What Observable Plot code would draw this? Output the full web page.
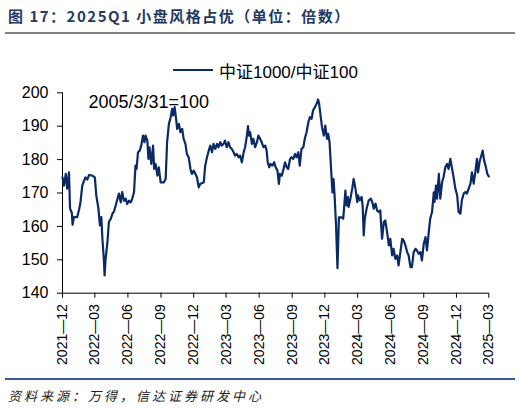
<!DOCTYPE html>
<html>
<head>
<meta charset="utf-8">
<script src="https://cdn.jsdelivr.net/npm/d3@7"></script>
<script src="https://cdn.jsdelivr.net/npm/@observablehq/plot@0.6"></script>
<style>
  body { margin: 0; background: #fff; }
  #wrap { position: relative; width: 520px; height: 410px; overflow: hidden; background: #fff; font-family: "Liberation Sans", "Noto Sans CJK SC", sans-serif; }
  #title { position: absolute; left: 8px; top: 8px; font-family: "Noto Sans CJK SC", sans-serif; font-weight: bold; font-size: 15px; line-height: 15px; letter-spacing: 1.5px; color: #243a64; white-space: nowrap; }
  #rule1 { position: absolute; left: 5px; top: 32px; width: 510px; height: 2px; background: #808080; }
  #legend { position: absolute; left: 173px; top: 60px; height: 20px; display: flex; align-items: center; font-size: 17px; color: #000; white-space: nowrap; }
  #legend .sw { display: inline-block; width: 40px; height: 2px; background: #0a2a66; margin-right: 6px; }
  #chart { position: absolute; left: 0; top: 78px; }
  #rule2 { position: absolute; left: 5px; top: 378px; width: 510px; height: 2px; background: #3a5a96; }
  #source { position: absolute; left: 8px; top: 388px; font-family: "Noto Sans CJK SC", sans-serif; font-style: italic; font-size: 13px; line-height: 16px; letter-spacing: 3px; color: #222; white-space: nowrap; }
</style>
</head>
<body>
<div id="wrap">
  <div id="title">图 17：2025Q1 小盘风格占优（单位：倍数）</div>
  <div id="rule1"></div>
  <div id="legend"><span class="sw"></span><span id="legendText"></span></div>
  <div id="chart"></div>
  <div id="rule2"></div>
  <div id="source">资料来源：万得，信达证券研发中心</div>
</div>
<script>
const seriesName = "中证1000/中证100";
const annotation = ["2005/3/31=100"];
const yTicks = [140, 150, 160, 170, 180, 190, 200];
const xTickLabels = ["2021-12","2022-03","2022-06","2022-09","2022-12","2023-03","2023-06","2023-09","2023-12","2024-03","2024-06","2024-09","2024-12","2025-03"];

const dates = [
"2021-12-01","2021-12-05","2021-12-10","2021-12-14","2021-12-19","2021-12-22","2021-12-27","2021-12-29",
"2022-01-02","2022-01-11","2022-01-16","2022-01-20","2022-01-25","2022-01-30","2022-02-03","2022-02-08","2022-02-13","2022-02-22",
"2022-03-01","2022-03-05","2022-03-11","2022-03-15","2022-03-19","2022-03-22","2022-03-26","2022-03-28","2022-03-31",
"2022-04-05","2022-04-09","2022-04-14","2022-04-19","2022-04-23","2022-04-28","2022-05-03","2022-05-07","2022-05-12","2022-05-16","2022-05-21","2022-05-26","2022-05-30",
"2022-06-04","2022-06-09","2022-06-13","2022-06-18","2022-06-22","2022-06-25","2022-06-29","2022-07-04","2022-07-08","2022-07-13","2022-07-17","2022-07-20","2022-07-25","2022-07-28","2022-07-31",
"2022-08-05","2022-08-10","2022-08-13","2022-08-17","2022-08-22","2022-08-26","2022-08-31","2022-09-09","2022-09-14","2022-09-18","2022-09-23","2022-09-28",
"2022-10-02","2022-10-05","2022-10-09","2022-10-13","2022-10-16","2022-10-21","2022-10-25","2022-10-30","2022-11-03","2022-11-08","2022-11-12","2022-11-17","2022-11-22","2022-11-26",
"2022-12-01","2022-12-06","2022-12-10","2022-12-15","2022-12-19","2022-12-29",
"2023-01-02","2023-01-07","2023-01-12","2023-01-16","2023-01-21","2023-01-25","2023-01-30","2023-02-04","2023-02-08","2023-02-13","2023-02-17","2023-02-22","2023-02-26",
"2023-03-03","2023-03-08","2023-03-12","2023-03-17","2023-03-22","2023-03-26","2023-03-31","2023-04-05","2023-04-09","2023-04-14","2023-04-19","2023-04-23","2023-04-28",
"2023-05-01","2023-05-04","2023-05-07","2023-05-12","2023-05-16","2023-05-21","2023-05-26","2023-05-30","2023-06-04","2023-06-08","2023-06-13","2023-06-18","2023-06-22","2023-06-25","2023-06-29",
"2023-07-03","2023-07-08","2023-07-13","2023-07-17","2023-07-22","2023-07-26","2023-07-29","2023-08-03","2023-08-08","2023-08-12","2023-08-17","2023-08-21","2023-08-26","2023-08-30",
"2023-09-04","2023-09-09","2023-09-13","2023-09-18","2023-09-22","2023-09-27","2023-10-02","2023-10-06","2023-10-11","2023-10-16","2023-10-20","2023-10-25","2023-10-29",
"2023-11-03","2023-11-08","2023-11-12","2023-11-15","2023-11-19","2023-11-23","2023-11-28","2023-12-02","2023-12-07","2023-12-10","2023-12-14","2023-12-19","2023-12-22","2023-12-25","2023-12-28",
"2024-01-01","2024-01-05","2024-01-09","2024-01-16","2024-01-21","2024-01-24","2024-01-27","2024-01-30","2024-02-03","2024-02-05","2024-02-10","2024-02-15","2024-02-19","2024-02-24","2024-02-29",
"2024-03-02","2024-03-07","2024-03-12","2024-03-15","2024-03-18","2024-03-21","2024-03-26","2024-04-01","2024-04-07","2024-04-12","2024-04-15","2024-04-20","2024-04-24","2024-04-29",
"2024-05-03","2024-05-08","2024-05-13","2024-05-17","2024-05-22","2024-05-27","2024-05-31","2024-06-05","2024-06-09","2024-06-14","2024-06-19","2024-06-23","2024-06-28",
"2024-07-03","2024-07-07","2024-07-12","2024-07-17","2024-07-21","2024-07-26","2024-07-30","2024-08-04","2024-08-09","2024-08-13","2024-08-18","2024-08-23","2024-08-27",
"2024-09-01","2024-09-06","2024-09-10","2024-09-15","2024-09-19","2024-09-24","2024-09-29","2024-10-01","2024-10-05","2024-10-08","2024-10-13","2024-10-17","2024-10-22","2024-10-26","2024-10-31",
"2024-11-05","2024-11-09","2024-11-14","2024-11-19","2024-11-23","2024-11-28","2024-12-03","2024-12-07","2024-12-12","2024-12-16","2024-12-21","2024-12-26","2024-12-30",
"2025-01-04","2025-01-09","2025-01-13","2025-01-18","2025-01-23","2025-01-27","2025-01-30","2025-02-04","2025-02-07","2025-02-12","2025-02-16","2025-02-20","2025-02-25","2025-03-01"
];

const ratio = [
174.7,172.2,175.7,171.3,176.2,165.3,164.0,160.5,
162.8,162.8,165.0,167.2,172.2,173.7,174.7,174.0,175.4,175.2,
174.7,169.3,165.3,160.3,162.8,156.3,150.3,145.3,150.3,
155.3,161.3,162.2,163.8,164.4,166.3,168.3,169.8,167.2,170.3,167.7,168.3,166.7,
167.7,167.2,168.3,170.3,178.2,177.2,182.2,182.7,184.2,187.2,185.2,187.2,185.7,180.2,183.7,
178.7,184.2,177.2,178.7,175.2,177.7,173.2,173.2,174.2,185.2,190.7,192.7,
195.2,193.2,195.7,192.2,189.2,190.7,188.2,189.2,186.2,184.7,181.7,180.7,177.2,175.7,
176.7,175.7,174.7,171.7,172.7,173.2,
178.2,180.7,182.7,184.2,182.2,184.7,183.2,184.7,183.7,185.2,184.2,184.7,185.7,
183.7,185.2,183.7,183.2,182.2,181.2,181.7,180.7,181.2,179.2,182.2,183.7,187.2,
190.0,187.2,188.2,184.7,186.2,183.7,185.2,187.2,186.2,185.2,183.7,184.2,182.7,179.2,177.7,
178.7,178.2,179.2,177.7,176.7,172.7,175.7,175.2,177.2,179.2,177.7,177.2,180.2,180.7,
180.2,181.7,180.7,182.2,178.2,183.2,183.7,186.2,188.2,191.2,192.7,192.2,194.7,
195.7,196.7,198.0,196.7,193.2,189.7,187.2,190.2,186.2,187.7,185.2,175.7,170.2,174.2,169.2,
160.3,147.5,162.7,162.7,162.3,166.3,170.7,166.3,168.8,165.8,168.3,171.3,174.2,171.3,167.3,
169.3,167.8,168.8,166.3,157.3,162.3,165.3,167.8,168.3,166.8,165.3,166.8,164.8,164.3,
164.8,156.3,161.3,161.8,158.3,154.3,156.3,151.3,153.3,150.3,151.3,148.3,152.3,
156.3,155.8,154.3,152.3,151.3,147.8,147.8,152.3,153.3,152.8,151.8,152.3,149.8,
154.8,156.8,152.8,158.3,162.3,164.3,170.2,167.3,172.2,168.3,175.7,168.3,173.2,174.7,177.7,
178.7,177.2,180.2,177.2,174.7,171.3,169.3,164.3,163.8,167.8,169.8,170.3,169.8,
171.3,172.8,176.2,172.8,176.7,180.2,176.2,179.7,180.7,182.7,179.7,178.2,175.7,175.0
];

const parse = d3.utcParse("%Y-%m-%d");
const parseMonth = d3.utcParse("%Y-%m");
const data = dates.map((d, i) => ({date: parse(d), value: ratio[i]}));
const xTicks = xTickLabels.map(parseMonth);
const fmt = d => d3.utcFormat("%Y")(d) + "—" + d3.utcFormat("%m")(d);

document.getElementById("legendText").textContent = seriesName;

const chart = Plot.plot({
  width: 520,
  height: 298,
  marginLeft: 62,
  marginRight: 31.7,
  marginTop: 14.3,
  marginBottom: 83.3,
  style: {fontFamily: "'Liberation Sans', Arial, sans-serif", color: "#000", background: "transparent", overflow: "visible"},
  x: {type: "utc", domain: [xTicks[0], xTicks[xTicks.length - 1]]},
  y: {domain: [yTicks[0], yTicks[yTicks.length - 1]]},
  marks: [
    Plot.axisY({ticks: yTicks, tickSize: 5, tickPadding: 9, fontSize: 16, label: null, stroke: "#000"}),
    Plot.axisX({ticks: xTicks, tickFormat: fmt, tickRotate: -90, tickSize: 5, tickPadding: 6, fontSize: 14, label: null, stroke: "#000"}),
    Plot.ruleY([yTicks[0]], {stroke: "#000", strokeWidth: 1}),
    Plot.ruleX([xTicks[0]], {stroke: "#000", strokeWidth: 1}),
    Plot.line(data, {x: "date", y: "value", stroke: "#0a2a66", strokeWidth: 2.2, strokeLinejoin: "round"}),
    Plot.text(annotation, {frameAnchor: "top-left", dx: 26, dy: 9, text: d => d, textAnchor: "start", lineAnchor: "middle", fontSize: 18, fill: "#000"})
  ]
});
document.getElementById("chart").appendChild(chart);
</script>
</body>
</html>
